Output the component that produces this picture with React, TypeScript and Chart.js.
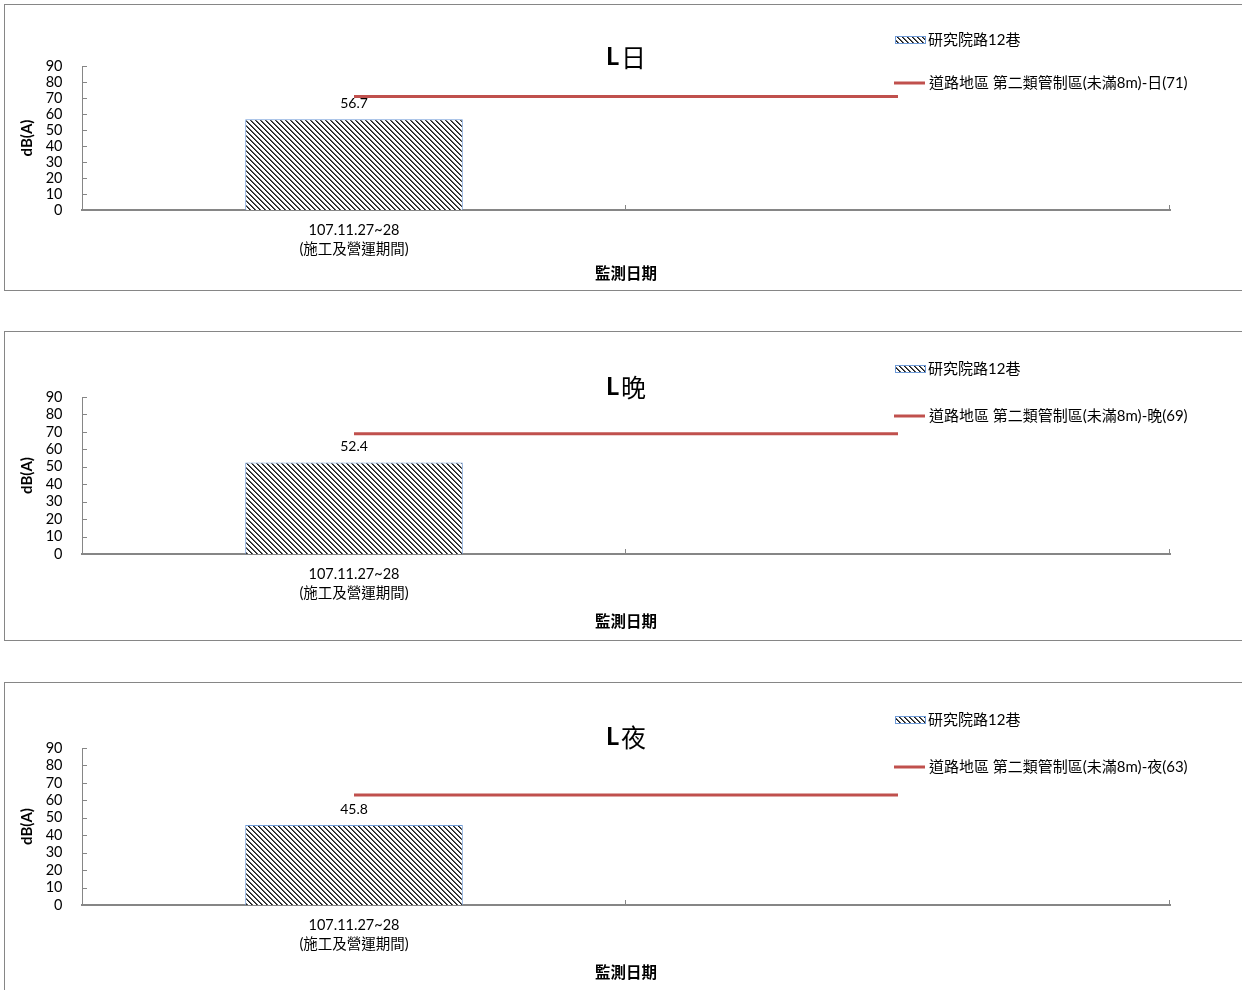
import React, { useEffect, useRef } from "react";
import { Chart, registerables } from "chart.js";

Chart.register(...registerables);

// ---------------- data ----------------
const categoryLabels: (string | string[])[] = [["107.11.27~28", "(施工及營運期間)"], ""];
const periodNames = ["日", "晚", "夜"];
const siteName = "研究院路12巷";
const measuredValues = [56.7, 52.4, 45.8];
const limitValues = [71, 69, 63];
const limitLabelPrefix = "道路地區 第二類管制區(未滿8m)-";
const yMin = 0;
const yMax = 90;
const yStep = 10;
const yAxisTitle = "dB(A)";
const xAxisTitle = "監測日期";

// ---------------- layout / style ----------------
const LATIN = 'Lato, "Noto Sans CJK TC", sans-serif';
const CJK = '"Noto Sans CJK TC", sans-serif';
const AXIS_GREY = "#868686";
const RED = "#c0504d";
const BLUE = "#6f9bd8";
const CANVAS_W = 1242;

const panels = [
  { top: 4, height: 287, plotTop: 61, xAxisH: 80, titleY: 52, leg1Y: 35, leg2Y: 78, xTitlePad: 7 },
  { top: 331, height: 310, plotTop: 65, xAxisH: 86, titleY: 55, leg1Y: 37, leg2Y: 84, xTitlePad: 9 },
  { top: 682, height: 310, plotTop: 65, xAxisH: 86, titleY: 54, leg1Y: 37, leg2Y: 84, xTitlePad: 9 },
];

function makeHatch(ctx: CanvasRenderingContext2D): CanvasPattern | string {
  const n = 5;
  const c = document.createElement("canvas");
  c.width = n;
  c.height = n;
  const g = c.getContext("2d");
  if (!g) return "#555";
  g.fillStyle = "#ffffff";
  g.fillRect(0, 0, n, n);
  for (let y = 0; y < n; y++) {
    for (let x = 0; x < n; x++) {
      const d = (((x - y) % n) + n) % n;
      if (d === 0) {
        g.fillStyle = "#1a1a1a";
        g.fillRect(x, y, 1, 1);
      } else if (d === 1) {
        g.fillStyle = "#5a5a5a";
        g.fillRect(x, y, 1, 1);
      }
    }
  }
  return ctx.createPattern(c, "repeat") || "#555";
}

const decorPlugin = {
  id: "decor",
  afterDraw(chart: any, _args: any, opts: any) {
    const ctx: CanvasRenderingContext2D = chart.ctx;
    const area = chart.chartArea;
    const xs = chart.scales.x;
    const ys = chart.scales.y;
    ctx.save();

    // inside tick marks on y axis
    ctx.strokeStyle = AXIS_GREY;
    ctx.lineWidth = 1;
    ys.ticks.forEach((t: any) => {
      const y = Math.round(ys.getPixelForValue(t.value)) + 0.5;
      ctx.beginPath();
      ctx.moveTo(area.left, y);
      ctx.lineTo(area.left + 5, y);
      ctx.stroke();
    });
    // inside tick marks on x axis (category boundaries)
    const n = categoryLabels.length;
    for (let i = 1; i <= n; i++) {
      const x = Math.round(xs.getPixelForValue(i - 0.5)) - 0.5;
      ctx.beginPath();
      ctx.moveTo(x, area.bottom);
      ctx.lineTo(x, area.bottom - 5);
      ctx.stroke();
    }

    // data labels above bars
    const barMeta = chart.getDatasetMeta(0);
    ctx.fillStyle = "#000";
    ctx.font = `14px ${LATIN}`;
    ctx.textAlign = "center";
    ctx.textBaseline = "middle";
    barMeta.data.forEach((el: any, i: number) => {
      const v = chart.data.datasets[0].data[i];
      if (v === null || v === undefined) return;
      ctx.fillText(String(v), el.x, el.y - 16);
    });

    // title: bold "L" + regular CJK period char
    const cx = 621;
    const f1 = `bold 25px ${LATIN}`;
    const f2 = `25px ${CJK}`;
    ctx.font = f1;
    const w1 = ctx.measureText("L").width;
    ctx.font = f2;
    const w2 = ctx.measureText(opts.period).width;
    const sx = cx - (w1 + w2 + 2) / 2;
    ctx.textAlign = "left";
    ctx.textBaseline = "middle";
    ctx.font = f1;
    ctx.fillText("L", sx, opts.titleY);
    ctx.font = f2;
    ctx.fillText(opts.period, sx + w1 + 2, opts.titleY);

    // legend
    const lx = 890;
    const tx = 923;
    ctx.fillStyle = opts.hatch;
    ctx.fillRect(lx, opts.leg1Y - 3, 30, 7);
    ctx.strokeStyle = BLUE;
    ctx.lineWidth = 1;
    ctx.strokeRect(lx + 0.5, opts.leg1Y - 3.5, 30, 7);
    ctx.fillStyle = "#000";
    ctx.font = `15px ${LATIN}`;
    ctx.fillText(opts.barLabel, tx, opts.leg1Y);

    ctx.strokeStyle = RED;
    ctx.lineWidth = 3;
    ctx.beginPath();
    ctx.moveTo(lx - 1, opts.leg2Y);
    ctx.lineTo(lx + 30, opts.leg2Y);
    ctx.stroke();
    ctx.fillStyle = "#000";
    ctx.fillText(opts.lineLabel, tx + 1, opts.leg2Y);

    ctx.restore();
  },
};

function Panel({ index }: { index: number }) {
  const ref = useRef<HTMLCanvasElement | null>(null);
  const p = panels[index];
  const canvasH = p.height - 2;

  useEffect(() => {
    const canvas = ref.current;
    if (!canvas) return;
    const ctx = canvas.getContext("2d");
    if (!ctx) return;
    const hatch = makeHatch(ctx);
    const period = periodNames[index];
    const barData = categoryLabels.map((_, i) => (i === 0 ? measuredValues[index] : null));
    const lineData = categoryLabels.map(() => limitValues[index]);

    const chart = new Chart(ctx, {
      type: "bar",
      data: {
        labels: categoryLabels,
        datasets: [
          {
            type: "bar",
            label: siteName,
            data: barData,
            backgroundColor: hatch as any,
            borderColor: BLUE,
            borderWidth: 1,
            barPercentage: 0.4,
            categoryPercentage: 1,
            order: 2,
          },
          {
            type: "line",
            label: `${limitLabelPrefix}${period}(${limitValues[index]})`,
            data: lineData,
            borderColor: RED,
            borderWidth: 3,
            pointRadius: 0,
            pointHoverRadius: 0,
            fill: false,
            order: 1,
          },
        ],
      } as any,
      options: {
        animation: false,
        responsive: false,
        maintainAspectRatio: false,
        devicePixelRatio: 1,
        layout: { padding: { top: p.plotTop, right: CANVAS_W - 1165, bottom: 0, left: 0 } },
        plugins: {
          legend: { display: false },
          title: { display: false },
          tooltip: { enabled: false },
          decor: {
            period,
            titleY: p.titleY,
            leg1Y: p.leg1Y,
            leg2Y: p.leg2Y,
            hatch,
            barLabel: siteName,
            lineLabel: `${limitLabelPrefix}${period}(${limitValues[index]})`,
          },
        } as any,
        scales: {
          x: {
            type: "category",
            offset: true,
            grid: { display: false, drawTicks: false },
            border: { display: true, color: AXIS_GREY, width: 2 },
            ticks: {
              color: "#000",
              font: { family: LATIN, size: 14.5, lineHeight: "19px" } as any,
              padding: 10.5,
              autoSkip: false,
              maxRotation: 0,
              minRotation: 0,
            },
            title: {
              display: true,
              text: xAxisTitle,
              color: "#000",
              font: { family: LATIN, size: 15.5, weight: "bold", lineHeight: 1.2 },
              padding: { top: 0, bottom: p.xTitlePad },
            },
            afterFit: (scale: any) => {
              scale.height = p.xAxisH;
            },
          },
          y: {
            min: yMin,
            max: yMax,
            grid: { display: false, drawTicks: false },
            border: { display: true, color: AXIS_GREY, width: 1 },
            ticks: {
              stepSize: yStep,
              autoSkip: false,
              color: "#000",
              font: { family: LATIN, size: 14.5, lineHeight: 1 },
              padding: 19.5,
            },
            title: {
              display: true,
              text: yAxisTitle,
              color: "#000",
              font: { family: LATIN, size: 15, weight: "bold", lineHeight: 1.2 },
              padding: { top: 13.5, bottom: 0 },
            },
            afterFit: (scale: any) => {
              scale.width = 77;
            },
          },
        },
      } as any,
      plugins: [decorPlugin as any],
    });
    return () => chart.destroy();
  }, [index]);

  return (
    <div
      style={{
        position: "absolute",
        left: 4,
        top: p.top,
        width: 1262,
        height: p.height,
        boxSizing: "border-box",
        border: `1px solid ${AXIS_GREY}`,
        background: "#fff",
      }}
    >
      <canvas
        ref={ref}
        width={CANVAS_W}
        height={canvasH}
        style={{ display: "block", width: CANVAS_W, height: canvasH }}
      />
    </div>
  );
}

export default function App() {
  return (
    <div
      style={{
        position: "fixed",
        left: 0,
        top: 0,
        width: 1242,
        height: 990,
        overflow: "hidden",
        background: "#fff",
      }}
    >
      {periodNames.map((_, i) => (
        <Panel key={i} index={i} />
      ))}
    </div>
  );
}
